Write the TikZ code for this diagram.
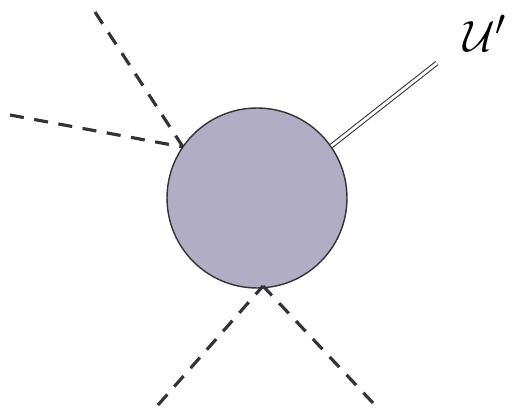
\documentclass[tikz,border=0pt]{standalone}
\usepackage{xcolor}
\usetikzlibrary{arrows.meta, positioning, calc}
\definecolor{blobfill}{RGB}{176,173,196}
\definecolor{inkline}{RGB}{50,50,55}

\begin{document}
\begin{tikzpicture}[x=0.02cm, y=-0.02cm,
    leg/.style={draw=inkline, line width=1.8pt, dash pattern=on 8pt off 6pt},
    outleg/.style={draw=inkline, double=white, double distance=1.6pt, line width=0.6pt},
    every node/.style={font=\small}]
    \useasboundingbox (0,0) rectangle (519,411);
    \node[circle, draw=inkline, fill=blobfill, line width=0.8pt,
          minimum size=3.6cm, inner sep=0pt] (blob) at (257,198) {};
    \coordinate (tl) at (95,12);
    \coordinate (l) at (10,115);
    \coordinate (bl) at (158,405);
    \coordinate (br) at (373,403);
    \coordinate (tr) at (437,63);
    \coordinate (hit) at (183,147);
    \coordinate (low) at (263,286);
    \draw[leg] (tl) -- (hit);
    \draw[leg] (l) -- (hit);
    \draw[leg] (bl) -- (low);
    \draw[leg] (br) -- (low);
    \draw[outleg] (blob.35) -- (tr);
    \node[inner sep=0pt] (lbl) at (485,33) {\fontsize{32}{32}\selectfont$\mathcal{U}'$};
\end{tikzpicture}
\end{document}
